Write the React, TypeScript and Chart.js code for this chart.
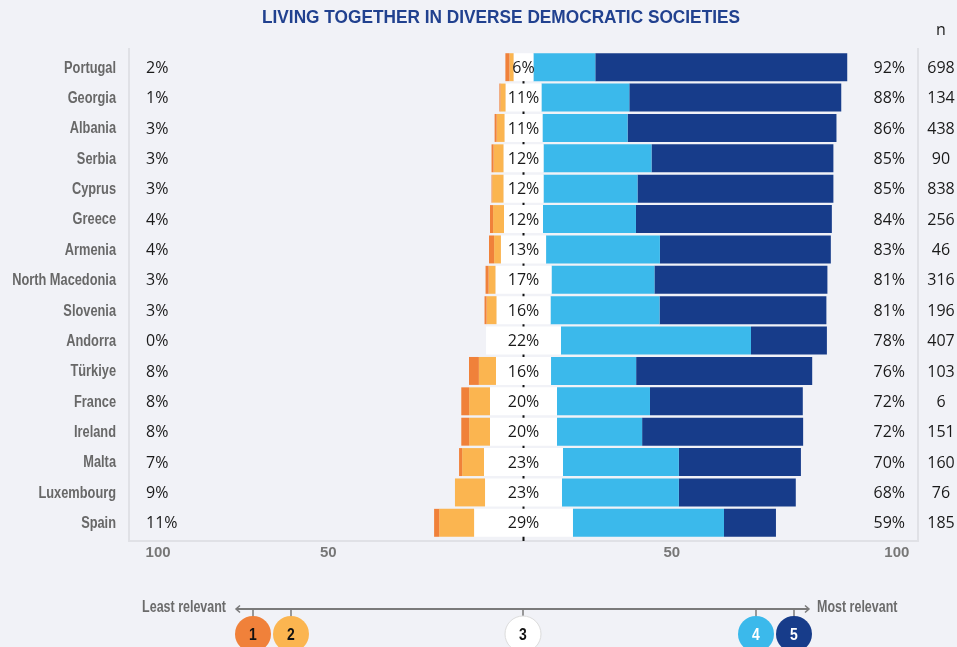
import React, { useEffect, useRef } from "react";
import { Chart, registerables } from "chart.js";
Chart.register(...registerables);

const title = "LIVING TOGETHER IN DIVERSE DEMOCRATIC SOCIETIES";
const countries = ["Portugal", "Georgia", "Albania", "Serbia", "Cyprus", "Greece", "Armenia", "North Macedonia", "Slovenia", "Andorra", "Türkiye", "France", "Ireland", "Malta", "Luxembourg", "Spain"];
const v1 = [1.2, 0.3, 0.6, 0.6, 0.2, 0.9, 1.5, 0.9, 0.6, 0, 2.9, 2.3, 2.3, 0.9, 0, 1.5];
const v2 = [1.2, 1.5, 2.3, 2.9, 3.3, 3.2, 2.0, 2.0, 2.9, 0, 5.0, 6.1, 6.1, 6.4, 8.8, 10.2];
const v3 = [5.8, 10.5, 11.1, 11.7, 11.7, 11.4, 13.2, 16.4, 15.8, 21.9, 16.1, 19.6, 19.6, 23.1, 22.5, 28.9];
const v4 = [18.1, 25.7, 24.9, 31.6, 27.5, 27.2, 33.3, 30.1, 31.9, 55.6, 24.9, 27.2, 24.9, 33.9, 34.2, 44.2];
const v5 = [73.7, 62.0, 61.1, 53.2, 57.3, 57.3, 50.0, 50.6, 48.8, 22.2, 51.5, 44.7, 47.1, 35.7, 34.2, 15.2];
const leftLabels = ["2%", "1%", "3%", "3%", "3%", "4%", "4%", "3%", "3%", "0%", "8%", "8%", "8%", "7%", "9%", "11%"];
const midLabels = ["6%", "11%", "11%", "12%", "12%", "12%", "13%", "17%", "16%", "22%", "16%", "20%", "20%", "23%", "23%", "29%"];
const rightLabels = ["92%", "88%", "86%", "85%", "85%", "84%", "83%", "81%", "81%", "78%", "76%", "72%", "72%", "70%", "68%", "59%"];
const nValues = ["698", "134", "438", "90", "838", "256", "46", "316", "196", "407", "103", "6", "151", "160", "76", "185"];
const tickValues = [-106.9, -57.1, 43.4, 109.2];
const tickLabels = ["100", "50", "50", "100"];
const legendNumbers = ["1", "2", "3", "4", "5"];

const BG = "#f1f2f7";
const COLORS = ["#f0813a", "#fbb550", "#ffffff", "#3bb9eb", "#173c8a"];
const SANS = "'Liberation Sans', Arial, sans-serif";
const REG = "'Open Sans', 'Noto Sans', sans-serif";

function narrowText(ctx: CanvasRenderingContext2D, text: string, x: number, y: number, align: CanvasTextAlign, sx = 0.82) {
  ctx.save();
  ctx.translate(x, y);
  ctx.scale(sx, 1);
  ctx.textAlign = align;
  ctx.textBaseline = "middle";
  ctx.fillText(text, 0, 0);
  ctx.restore();
}

export default function App() {
  const ref = useRef<HTMLCanvasElement>(null);
  useEffect(() => {
    document.body.style.margin = "0";
    document.body.style.background = BG;
    const canvas = ref.current!;
    const seg = (k: number) =>
      countries.map((_, i) => {
        const h = v3[i] / 2;
        const b = [-h - v2[i] - v1[i], -h - v2[i], -h, h, h + v4[i], h + v4[i] + v5[i]];
        return [b[k], b[k + 1]];
      });
    const datasets = [0, 1, 2, 3, 4].map((k) => ({
      label: String(k + 1),
      data: seg(k) as any,
      backgroundColor: COLORS[k],
      borderWidth: 0,
      grouped: false,
      categoryPercentage: 1,
      barPercentage: 0.92,
    }));

    const bgPlugin = {
      id: "bg",
      beforeDraw(c: any) {
        const ctx = c.ctx;
        ctx.save();
        ctx.fillStyle = BG;
        ctx.fillRect(0, 0, c.width, c.height);
        ctx.restore();
      },
      beforeDatasetsDraw(c: any) {
        const ctx = c.ctx;
        const a = c.chartArea;
        const x0 = c.scales.x.getPixelForValue(0);
        ctx.save();
        ctx.strokeStyle = "#e0e1e6";
        ctx.lineWidth = 2;
        ctx.beginPath();
        ctx.moveTo(a.left, 48);
        ctx.lineTo(a.left, a.bottom + 3);
        ctx.lineTo(a.right, a.bottom + 3);
        ctx.lineTo(a.right, 48);
        ctx.stroke();
        ctx.strokeStyle = "#111";
        ctx.beginPath();
        ctx.moveTo(x0, a.top + 2);
        ctx.lineTo(x0, a.bottom + 3);
        ctx.stroke();
        ctx.restore();
      },
      afterDatasetsDraw(c: any) {
        const ctx = c.ctx;
        const ys = c.scales.y;
        const x0 = c.scales.x.getPixelForValue(0);
        ctx.save();
        ctx.fillStyle = "#686868";
        ctx.font = `bold 16px ${SANS}`;
        countries.forEach((_, i) => {
          const y = ys.getPixelForValue(i) + 1;
          narrowText(ctx, ys.getLabelForValue(i), 116, y, "right", 0.8);
        });
        ctx.fillStyle = "#1a1a1a";
        ctx.font = `16px ${REG}`;
        ctx.textBaseline = "middle";
        countries.forEach((_, i) => {
          const y = ys.getPixelForValue(i) + 1;
          ctx.textAlign = "left";
          ctx.fillText(leftLabels[i], 146, y);
          ctx.textAlign = "center";
          ctx.fillText(midLabels[i], x0, y);
          ctx.textAlign = "right";
          ctx.fillText(rightLabels[i], 905, y);
          ctx.textAlign = "center";
          ctx.fillText(nValues[i], 941, y);
        });
        ctx.fillText("n", 941, 30);
        ctx.fillStyle = "#21418f";
        ctx.font = `bold 19px ${SANS}`;
        const w = ctx.measureText(title).width;
        narrowText(ctx, title, 501, 18, "center", 478 / w);
        ctx.restore();
      },
      afterDraw(c: any) {
        const ctx = c.ctx;
        const ly = 609;
        ctx.save();
        ctx.strokeStyle = "#7a7a7a";
        ctx.lineWidth = 2;
        ctx.beginPath();
        ctx.moveTo(236, ly);
        ctx.lineTo(809, ly);
        ctx.stroke();
        ctx.lineWidth = 1.5;
        ctx.beginPath();
        ctx.moveTo(240, ly - 3.5);
        ctx.lineTo(236, ly);
        ctx.lineTo(240, ly + 3.5);
        ctx.moveTo(805, ly - 3.5);
        ctx.lineTo(809, ly);
        ctx.lineTo(805, ly + 3.5);
        ctx.stroke();
        const cx = [253, 291, 523, 756, 794];
        cx.forEach((x) => {
          ctx.beginPath();
          ctx.moveTo(x, ly);
          ctx.lineTo(x, ly + 8);
          ctx.stroke();
        });
        ctx.font = `bold 16px ${SANS}`;
        ctx.fillStyle = "#6b6b6b";
        narrowText(ctx, "Least relevant", 226, ly - 1, "right", 0.78);
        narrowText(ctx, "Most relevant", 817, ly - 1, "left", 0.78);
        cx.forEach((x, k) => {
          ctx.beginPath();
          ctx.arc(x, 634, 18, 0, Math.PI * 2);
          ctx.fillStyle = COLORS[k];
          ctx.fill();
          if (k === 2) {
            ctx.strokeStyle = "#dcdcdc";
            ctx.lineWidth = 1;
            ctx.stroke();
          }
          ctx.fillStyle = k >= 3 ? "#ffffff" : "#111111";
          ctx.font = `bold 17px ${SANS}`;
          narrowText(ctx, legendNumbers[k], x, 635, "center", 0.82);
        });
        ctx.restore();
      },
    };

    const chart = new Chart(canvas, {
      type: "bar",
      data: { labels: countries, datasets },
      plugins: [bgPlugin],
      options: {
        indexAxis: "y",
        responsive: false,
        animation: false,
        devicePixelRatio: 1,
        layout: { padding: { top: 52, bottom: 79, left: 0, right: 39 } },
        plugins: { legend: { display: false }, tooltip: { enabled: false }, title: { display: false } },
        scales: {
          x: {
            type: "linear",
            min: -115.4,
            max: 115.4,
            grid: { display: false, drawTicks: false },
            border: { display: false },
            afterBuildTicks: (s: any) => {
              s.ticks = tickValues.map((v) => ({ value: v }));
            },
            afterFit: (s: any) => {
              s.height = 30;
            },
            ticks: {
              autoSkip: false,
              maxRotation: 0,
              padding: 6,
              color: "#777777",
              font: { family: SANS, size: 15, weight: "bold" },
              callback: (_v: any, i: number) => tickLabels[i],
            },
          },
          y: {
            type: "category",
            grid: { display: false, drawTicks: false },
            border: { display: false },
            afterFit: (s: any) => {
              s.width = 129;
            },
            ticks: { display: false },
          },
        },
      } as any,
    });
    return () => chart.destroy();
  }, []);
  return (
    <div style={{ width: 957, height: 647, overflow: "hidden", background: BG }}>
      <canvas ref={ref} width={957} height={647} style={{ display: "block" }} />
    </div>
  );
}
